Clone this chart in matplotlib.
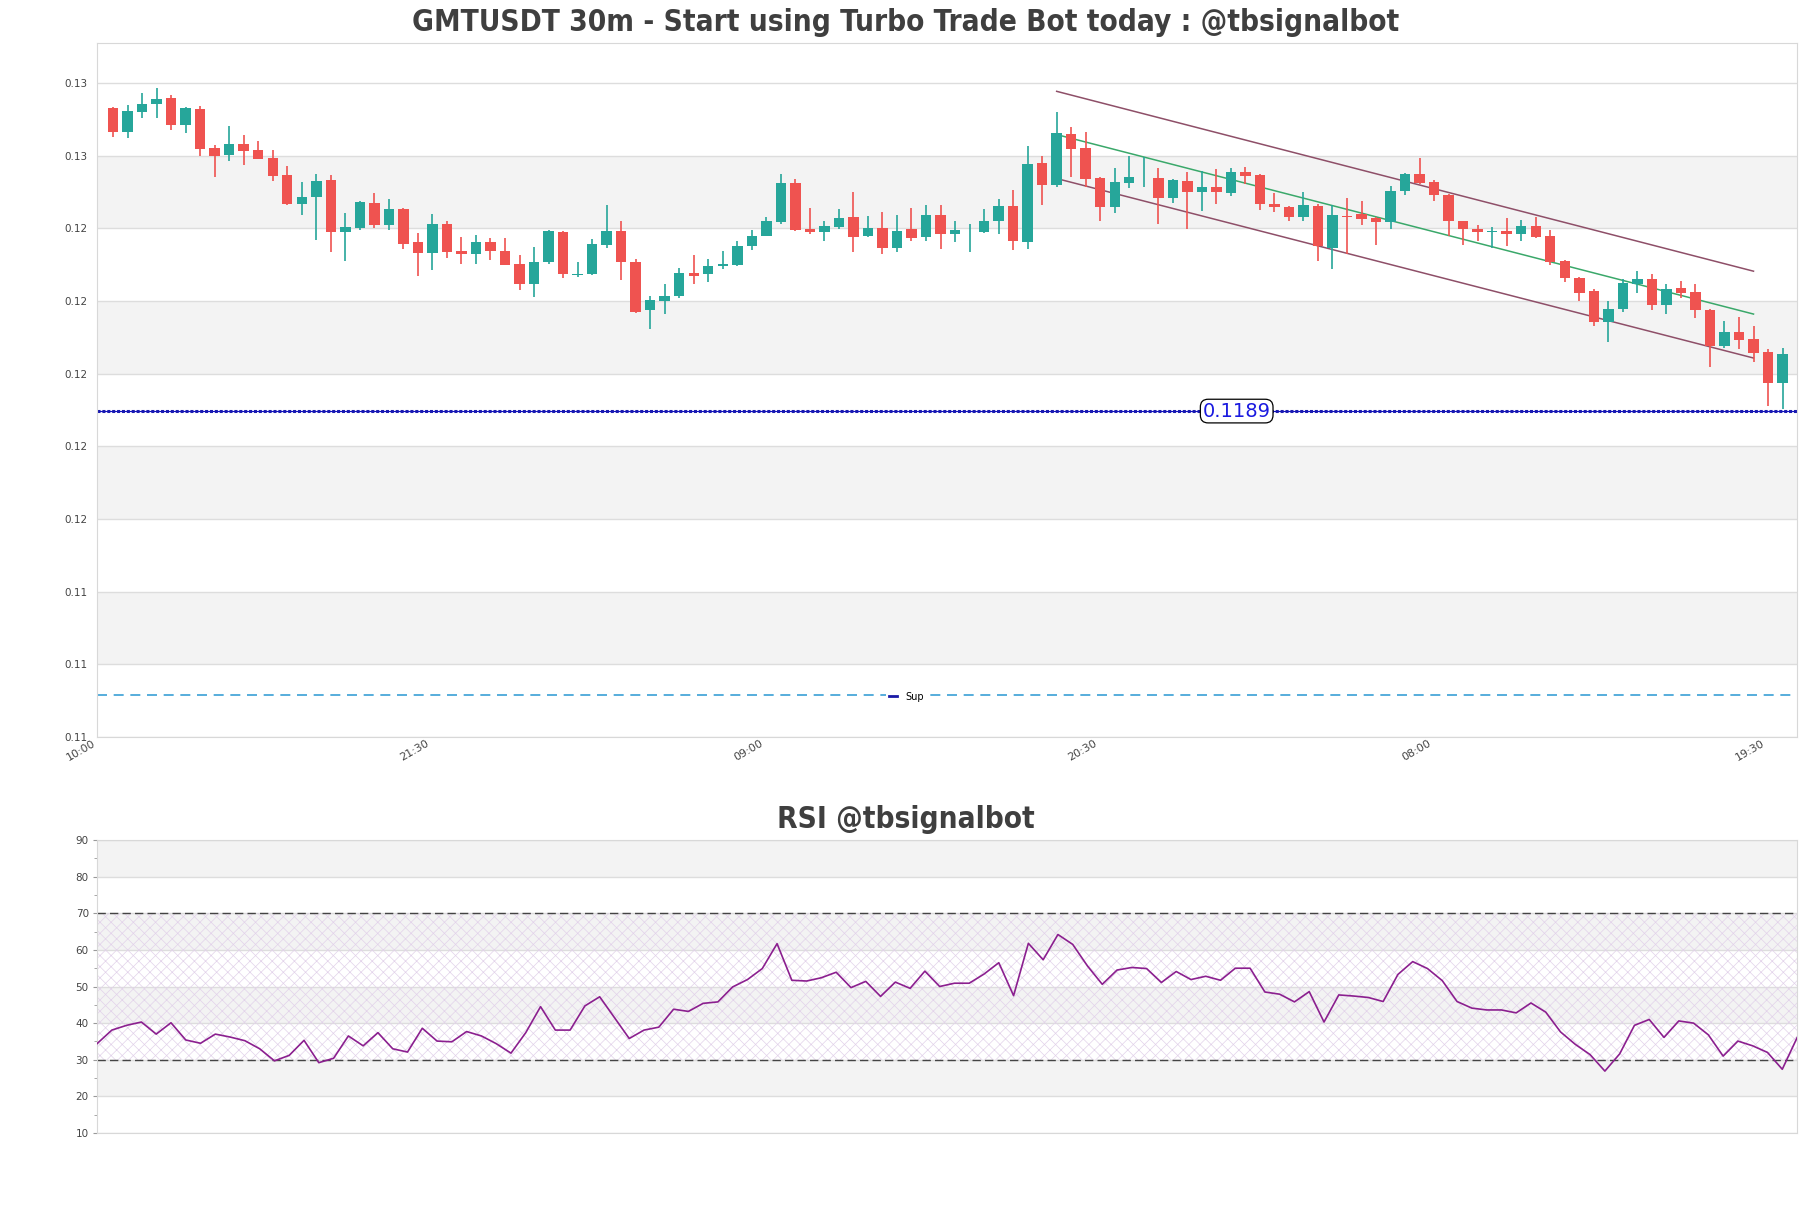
import numpy as np
import matplotlib
matplotlib.use("Agg")
import matplotlib.pyplot as plt
from matplotlib.lines import Line2D
from matplotlib.ticker import MultipleLocator, FormatStrFormatter

# --- data (30m candles) ---
opens = [0.12731, 0.12666, 0.12721, 0.12743, 0.12759, 0.12683, 0.12728, 0.12621, 0.12603, 0.12632,
         0.12616, 0.12594, 0.12547, 0.12468, 0.12487, 0.12533, 0.12391, 0.12402, 0.12470, 0.12410,
         0.12453, 0.12363, 0.12333, 0.12412, 0.12338, 0.12328, 0.12363, 0.12338, 0.12302, 0.12248,
         0.12306, 0.12390, 0.12271, 0.12273, 0.12355, 0.12393, 0.12308, 0.12174, 0.12201, 0.12213,
         0.12277, 0.12273, 0.12295, 0.12300, 0.12350, 0.12380, 0.12418, 0.12525, 0.12398, 0.12391,
         0.12404, 0.12431, 0.12380, 0.12401, 0.12347, 0.12398, 0.12377, 0.12437, 0.12385, 0.12394,
         0.12391, 0.12419, 0.12462, 0.12361, 0.12580, 0.12520, 0.12660, 0.12621, 0.12539, 0.12459,
         0.12525, 0.12540, 0.12539, 0.12484, 0.12530, 0.12500, 0.12514, 0.12497, 0.12555, 0.12547,
         0.12467, 0.12459, 0.12432, 0.12462, 0.12346, 0.12434, 0.12440, 0.12429, 0.12416, 0.12504,
         0.12550, 0.12528, 0.12492, 0.12419, 0.12399, 0.12391, 0.12393, 0.12383, 0.12407, 0.12379,
         0.12311, 0.12264, 0.12228, 0.12141, 0.12179, 0.12248, 0.12261, 0.12190, 0.12236, 0.12225,
         0.12176, 0.12077, 0.12115, 0.12094, 0.12059, 0.11973]
highs = [0.12734, 0.12739, 0.12772, 0.12786, 0.12767, 0.12733, 0.12737, 0.12629, 0.12682, 0.12657,
         0.12640, 0.12616, 0.12572, 0.12528, 0.12550, 0.12547, 0.12441, 0.12475, 0.12497, 0.12481,
         0.12455, 0.12387, 0.12440, 0.12420, 0.12376, 0.12382, 0.12373, 0.12374, 0.12327, 0.12349,
         0.12396, 0.12393, 0.12308, 0.12371, 0.12463, 0.12419, 0.12316, 0.12214, 0.12247, 0.12291,
         0.12327, 0.12316, 0.12338, 0.12365, 0.12396, 0.12431, 0.12550, 0.12536, 0.12456, 0.12420,
         0.12453, 0.12500, 0.12434, 0.12445, 0.12437, 0.12456, 0.12463, 0.12465, 0.12420, 0.12412,
         0.12453, 0.12481, 0.12506, 0.12627, 0.12599, 0.12720, 0.12679, 0.12665, 0.12541, 0.12566,
         0.12599, 0.12595, 0.12566, 0.12535, 0.12555, 0.12558, 0.12563, 0.12566, 0.12570, 0.12550,
         0.12497, 0.12461, 0.12500, 0.12468, 0.12463, 0.12483, 0.12474, 0.12431, 0.12517, 0.12553,
         0.12594, 0.12533, 0.12495, 0.12421, 0.12409, 0.12404, 0.12429, 0.12422, 0.12431, 0.12394,
         0.12313, 0.12266, 0.12233, 0.12200, 0.12261, 0.12283, 0.12275, 0.12247, 0.12255, 0.12247,
         0.12178, 0.12145, 0.12156, 0.12130, 0.12068, 0.12071]
lows = [0.12652, 0.12649, 0.12704, 0.12704, 0.12671, 0.12663, 0.12600, 0.12542, 0.12586, 0.12575,
        0.12590, 0.12529, 0.12463, 0.12438, 0.12369, 0.12336, 0.12311, 0.12394, 0.12402, 0.12394,
        0.12344, 0.12270, 0.12284, 0.12317, 0.12303, 0.12303, 0.12313, 0.12298, 0.12231, 0.12212,
        0.12302, 0.12264, 0.12267, 0.12271, 0.12346, 0.12259, 0.12167, 0.12124, 0.12163, 0.12208,
        0.12247, 0.12253, 0.12287, 0.12295, 0.12341, 0.12378, 0.12413, 0.12393, 0.12383, 0.12366,
        0.12399, 0.12336, 0.12375, 0.12330, 0.12336, 0.12366, 0.12366, 0.12343, 0.12361, 0.12336,
        0.12388, 0.12383, 0.12339, 0.12344, 0.12463, 0.12515, 0.12540, 0.12515, 0.12420, 0.12441,
        0.12511, 0.12515, 0.12413, 0.12471, 0.12399, 0.12449, 0.12468, 0.12490, 0.12522, 0.12451,
        0.12446, 0.12420, 0.12419, 0.12311, 0.12289, 0.12328, 0.12408, 0.12353, 0.12399, 0.12493,
        0.12523, 0.12474, 0.12380, 0.12355, 0.12366, 0.12347, 0.12350, 0.12366, 0.12372, 0.12300,
        0.12253, 0.12201, 0.12131, 0.12086, 0.12171, 0.12222, 0.12174, 0.12165, 0.12207, 0.12154,
        0.12017, 0.12071, 0.12069, 0.12031, 0.11912, 0.11903]
closes = [0.12666, 0.12723, 0.12742, 0.12756, 0.12685, 0.12731, 0.12619, 0.12600, 0.12632, 0.12613,
          0.12592, 0.12545, 0.12468, 0.12486, 0.12530, 0.12391, 0.12404, 0.12473, 0.12408, 0.12453,
          0.12358, 0.12333, 0.12412, 0.12336, 0.12328, 0.12363, 0.12337, 0.12300, 0.12248, 0.12308,
          0.12393, 0.12273, 0.12275, 0.12357, 0.12393, 0.12306, 0.12171, 0.12203, 0.12214, 0.12277,
          0.12269, 0.12297, 0.12301, 0.12352, 0.12379, 0.12420, 0.12525, 0.12396, 0.12391, 0.12407,
          0.12429, 0.12377, 0.12401, 0.12346, 0.12393, 0.12374, 0.12437, 0.12385, 0.12396, 0.12396,
          0.12420, 0.12462, 0.12364, 0.12577, 0.12518, 0.12662, 0.12619, 0.12536, 0.12459, 0.12528,
          0.12541, 0.12541, 0.12484, 0.12533, 0.12500, 0.12514, 0.12500, 0.12555, 0.12544, 0.12468,
          0.12460, 0.12432, 0.12464, 0.12350, 0.12437, 0.12432, 0.12427, 0.12416, 0.12503, 0.12550,
          0.12525, 0.12491, 0.12419, 0.12399, 0.12391, 0.12393, 0.12383, 0.12407, 0.12377, 0.12308,
          0.12262, 0.12223, 0.12141, 0.12178, 0.12250, 0.12261, 0.12190, 0.12233, 0.12223, 0.12174,
          0.12077, 0.12115, 0.12092, 0.12058, 0.11973, 0.12054]

rsi = [34.4, 38.1, 39.4, 40.3, 37.0, 40.1, 35.4, 34.5, 37.0, 36.2,
       35.2, 33.0, 29.7, 31.2, 35.3, 29.2, 30.4, 36.5, 33.8, 37.4,
       33.0, 32.1, 38.6, 35.1, 34.9, 37.7, 36.5, 34.4, 31.8, 37.4,
       44.5, 38.1, 38.1, 44.7, 47.2, 41.5, 35.8, 38.1, 38.9, 43.8,
       43.2, 45.4, 45.8, 49.9, 51.9, 54.9, 61.7, 51.7, 51.5, 52.4,
       53.9, 49.7, 51.4, 47.3, 51.2, 49.5, 54.2, 50.0, 50.9, 50.9,
       53.4, 56.5, 47.5, 61.8, 57.3, 64.2, 61.5, 55.6, 50.6, 54.5,
       55.2, 54.9, 51.1, 54.1, 51.9, 52.8, 51.7, 55.0, 55.0, 48.5,
       47.9, 45.8, 48.6, 40.3, 47.7, 47.4, 47.0, 45.9, 53.3, 56.8,
       54.9, 51.6, 45.9, 44.1, 43.6, 43.6, 42.8, 45.5, 43.0, 37.6,
       34.2, 31.4, 26.9, 31.6, 39.4, 41.0, 36.1, 40.6, 40.0, 36.8,
       31.0, 35.1, 33.8, 32.0, 27.4, 36.0]

tick_idx = [0, 23, 46, 69, 92, 115]
tick_labels = ["10:00", "21:30", "09:00", "20:30", "08:00", "19:30"]

# channel lines (start index, end index, start price, end price)
channel_x = [65, 113]
upper_line = [0.12777, 0.12282]
mid_line = [0.12658, 0.12164]
lower_line = [0.12537, 0.12043]

resistance_level = 0.11897
resistance_text = "0.1189"
sup_level = 0.11115

UP = "#26a69a"
DOWN = "#ef5350"
TXT = "#444444"

fig = plt.figure(figsize=(18.11, 12.08), dpi=100)
ax = fig.add_axes([0.0536, 0.3899, 0.9387, 0.5745])
ax2 = fig.add_axes([0.0536, 0.0621, 0.9387, 0.2425])

x = np.arange(len(opens))

# alternating background bands on price axes
for lo in [0.112, 0.116, 0.120, 0.124]:
    ax.axhspan(lo, lo + 0.002, color="#f3f3f3", zorder=0, lw=0)
ax.yaxis.set_major_locator(MultipleLocator(0.002))
ax.yaxis.set_major_formatter(FormatStrFormatter("%.2f"))
ax.grid(axis="y", color="#dddddd", lw=1, zorder=0.5)
ax.set_axisbelow(True)

# channel
ax.plot(channel_x, upper_line, color="#8e4f68", lw=1.1, zorder=1)
ax.plot(channel_x, mid_line, color="#3aa86a", lw=1.1, zorder=1)
ax.plot(channel_x, lower_line, color="#8e4f68", lw=1.1, zorder=1)

# candles
w = 0.72
for i in x:
    o, h, l, c = opens[i], highs[i], lows[i], closes[i]
    col = UP if c >= o else DOWN
    ax.vlines(i, l, h, color=col, lw=1.2, zorder=2)
    bottom = min(o, c)
    height = max(abs(c - o), 0.000015)
    ax.bar(i, height, w, bottom=bottom, color=col, zorder=3, lw=0)

# levels
ax.axhline(resistance_level, color="#1010c8", lw=0.8, zorder=2)
ax.axhline(resistance_level, color="#1a1ab0", lw=2.2, ls=(0, (1, 0.6)), zorder=2)
ax.text(77.4, resistance_level, resistance_text, color="#1a1ae0", fontsize=14,
        ha="center", va="center", zorder=5,
        bbox=dict(boxstyle="round,pad=0.12,rounding_size=0.4", fc="white", ec="black", lw=0.9))
ax.axhline(sup_level, color="#3a9fd6", lw=1.2, ls=(0, (6, 4)), zorder=2)

leg = ax.legend(handles=[Line2D([], [], color="#1a1aa6", lw=2)], labels=["Sup"],
                loc="center", bbox_to_anchor=(0.476, 0.058), frameon=True, fontsize=7,
                handlelength=0.9, borderpad=0.3, handletextpad=0.8)
leg.get_frame().set_edgecolor("none")
leg.get_frame().set_facecolor("white")
leg.get_frame().set_alpha(1)

ax.set_xlim(-1, 116)
ax.set_ylim(0.110, 0.1291)
# labels sit about one candle left of their bar
ax.set_xticks(np.array(tick_idx) - 1.1)
ax.set_xticklabels(tick_labels, rotation=30, ha="right", fontsize=8, color=TXT)
ax.tick_params(axis="x", length=0, pad=1)
ax.tick_params(axis="y", length=0, pad=7, labelsize=7.5, labelcolor=TXT)
for s in ax.spines.values():
    s.set_color("#d8d8d8")

# RSI panel
for lo in [20, 40, 60, 80]:
    ax2.axhspan(lo, lo + 10, color="#f3f3f3", zorder=0, lw=0)
plt.rcParams["hatch.linewidth"] = 0.5
ax2.fill_between([0, len(rsi) - 1], 30, 70, facecolor="none", hatch="xxx",
                 edgecolor="#e2d2ea", lw=0, zorder=0.6)
ax2.grid(axis="y", color="#dddddd", lw=1, zorder=0.5)
ax2.set_axisbelow(True)
ax2.axhline(70, color="#444444", lw=1, ls=(0, (6, 3)), zorder=2)
ax2.axhline(30, color="#444444", lw=1, ls=(0, (6, 3)), zorder=2)
ax2.plot(x, rsi, color="#8b1f8f", lw=1.2, zorder=3)
ax2.set_xlim(0, len(rsi) - 1)
ax2.set_ylim(10, 90)
ax2.yaxis.set_major_locator(MultipleLocator(10))
ax2.yaxis.set_minor_locator(MultipleLocator(5))
ax2.set_xticks([])
ax2.tick_params(axis="y", which="major", length=3, color="#999999", labelsize=7.5, labelcolor=TXT, pad=3)
ax2.tick_params(axis="y", which="minor", length=2, color="#999999")
for s in ax2.spines.values():
    s.set_color("#d8d8d8")

title_font = dict(family="DejaVu Sans", stretch="condensed", weight="bold", color="#3f3f3f")
fig.text(0.5, 0.981, "GMTUSDT 30m - Start using Turbo Trade Bot today : @tbsignalbot",
         ha="center", va="center", fontsize=21.3, **title_font)
fig.text(0.5, 0.3212, "RSI @tbsignalbot", ha="center", va="center", fontsize=21.3, **title_font)

fig.savefig("out.png", dpi=100, facecolor="white")
